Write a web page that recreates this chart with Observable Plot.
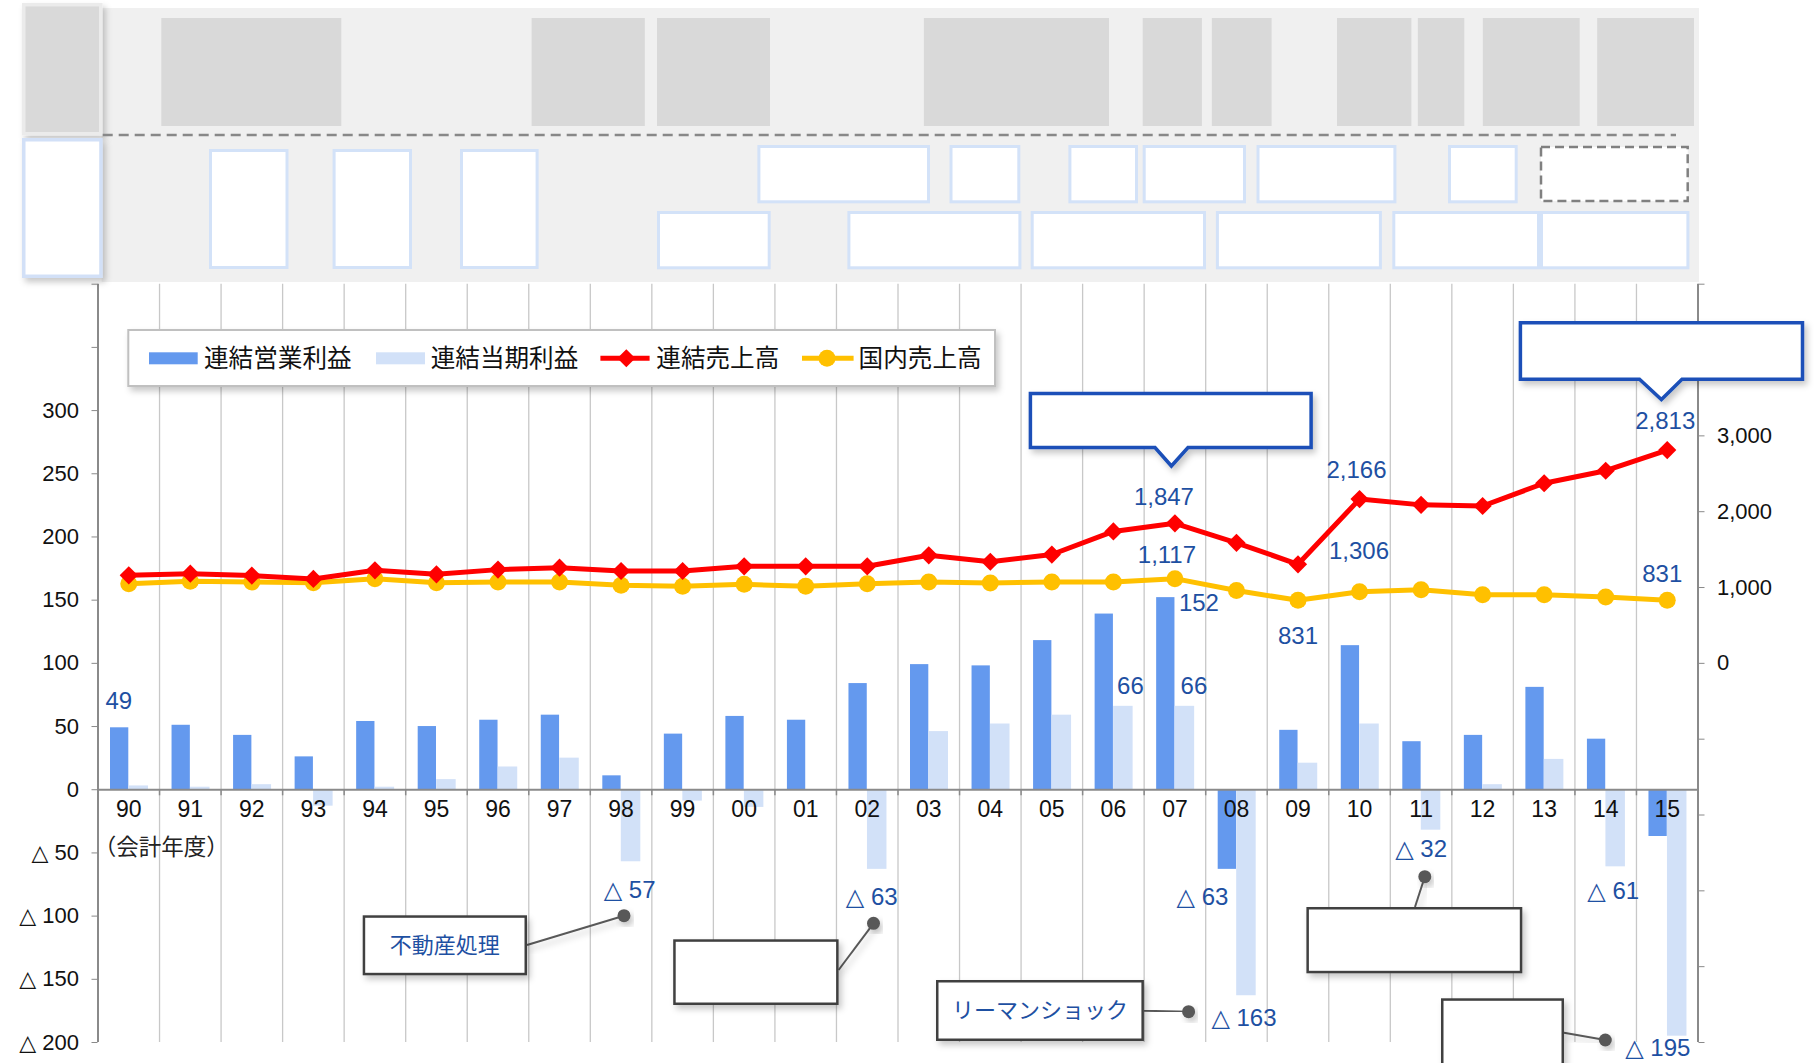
<!DOCTYPE html>
<html><head><meta charset="utf-8">
<script src="https://cdn.jsdelivr.net/npm/d3@7"></script>
<script src="https://cdn.jsdelivr.net/npm/@observablehq/plot@0.6"></script>
<style>
html,body{margin:0;padding:0;background:#fff;}
#wrap{position:relative;width:1820px;height:1063px;overflow:hidden;}
#wrap > svg{position:absolute;left:0;top:0;}
</style></head><body><div id="wrap"></div>
<script>
// ---- data ----
const years = ["90","91","92","93","94","95","96","97","98","99","00","01","02","03","04","05","06","07","08","09","10","11","12","13","14","15"];
const operatingProfit = [49,51,43,26,54,50,55,59,11,44,58,55,84,99,98,118,139,152,-63,47,114,38,43,81,40,-37];
const netProfit = [3,2,4,-13,2,8,18,25,-57,-9,-14,0,-63,46,52,59,66,66,-163,21,52,-32,4,24,-61,-195];
const consolidatedSales = [1161,1183,1157,1113,1227,1174,1236,1262,1218,1218,1280,1280,1280,1425,1340,1435,1740,1847,1590,1306,2166,2090,2075,2375,2540,2813];
const domesticSales = [1051,1082,1073,1064,1117,1064,1073,1073,1029,1016,1042,1016,1051,1073,1060,1073,1073,1117,960,831,945,970,905,905,875,831];
const seriesNames = ["連結営業利益","連結当期利益","連結売上高","国内売上高"];
const leftTicks = d3.range(-200, 401, 50);
const rightTicks = d3.range(-5000, 5001, 1000);
const axisNote = "（会計年度）";
const noteTexts = ["不動産処理","リーマンショック"];

// ---- layout / style ----
const W = 1820, H = 1063;
const mL = 97.5, mR = 122.5, mT = 283.7, mB = 21;
const bw = (W - mL - mR) / years.length;
const C = {op:"#6499ee", net:"#d2e1f8", cs:"#ff0000", ds:"#ffc000", lab:"#1e50a2", axis:"#8a8a8a", grid:"#c8c8c8"};
const NUM = "Liberation Sans, Arial, DejaVu Sans, sans-serif";
const CJK = "Noto Sans CJK JP, Noto Sans, sans-serif";
const toLeft = v => v * 0.06 + 100;   // right axis (-5000..5000) -> left axis (-200..400)
const fromLeft = v => Math.round((v - 100) / 0.06);
const fmtN = d3.format(",");
const fmtSigned = v => v < 0 ? "△ " + fmtN(-v) : fmtN(v);

const rows = years.map((y, i) => ({
  year: y, op: operatingProfit[i], net: netProfit[i],
  cs: toLeft(consolidatedSales[i]), ds: toLeft(domesticSales[i]),
  csRaw: consolidatedSales[i], dsRaw: domesticSales[i]
}));
const byYear = Object.fromEntries(rows.map(r => [r.year, r]));

// data labels: series key, year, pixel offset
const labelSpecs = [
  {k:"op", y:"90", dx:-10, dy:-26},
  {k:"op", y:"07", dx:24, dy:6},
  {k:"net", y:"06", dx:17, dy:-20},
  {k:"net", y:"07", dx:19, dy:-20},
  {k:"net", y:"98", dx:8.5, dy:29},
  {k:"net", y:"02", dx:4.5, dy:28},
  {k:"op", y:"08", dx:-34, dy:28},
  {k:"net", y:"08", dx:7.5, dy:23},
  {k:"net", y:"11", dx:0, dy:19},
  {k:"net", y:"14", dx:7.5, dy:24},
  {k:"net", y:"15", dx:-9.5, dy:12},
  {k:"cs", y:"07", dx:-11, dy:-26},
  {k:"ds", y:"07", dx:-8, dy:-23},
  {k:"cs", y:"10", dx:-3, dy:-29},
  {k:"cs", y:"09", dx:61, dy:-13.5},
  {k:"ds", y:"09", dx:0, dy:36},
  {k:"cs", y:"15", dx:-2, dy:-29},
  {k:"ds", y:"15", dx:-5, dy:-26}
];
const rawKey = {op:"op", net:"net", cs:"csRaw", ds:"dsRaw"};

const labelMarks = labelSpecs.map(s => Plot.text([byYear[s.y]], {
  x: "year", y: s.k, text: d => fmtSigned(d[rawKey[s.k]]),
  dx: s.dx, dy: s.dy, fill: C.lab, fontSize: 24, fontFamily: NUM
}));

const chart = Plot.plot({
  width: W, height: H,
  marginLeft: mL, marginRight: mR, marginTop: mT, marginBottom: mB,
  style: {background: "transparent", fontFamily: NUM},
  x: {type: "band", domain: years, padding: 0, round: false, axis: null},
  y: {domain: [-200, 400], axis: null},
  marks: [
    Plot.ruleX(years.slice(1), {x: d => d, dx: -bw / 2, stroke: C.grid, strokeWidth: 1.3}),
    Plot.barY(rows, {x: "year", y: "op", fill: C.op, insetLeft: 12.5, insetRight: bw - 30.8}),
    Plot.barY(rows, {x: "year", y: "net", fill: C.net, insetLeft: 31, insetRight: bw - 50.5}),
    Plot.ruleY([0], {stroke: C.axis, strokeWidth: 2}),
    Plot.ruleX(years.slice(1), {x: d => d, dx: -bw / 2, y1: () => 0, y2: () => -4.8, stroke: C.axis, strokeWidth: 1.5}),
    Plot.ruleX([years[0]], {x: d => d, dx: -bw / 2, stroke: C.axis, strokeWidth: 2}),
    Plot.ruleX([years[years.length - 1]], {x: d => d, dx: bw / 2, stroke: C.axis, strokeWidth: 2}),
    Plot.axisY({anchor: "left", ticks: leftTicks, tickSize: 6, tickPadding: 13, stroke: C.axis, fill: "#111",
      fontSize: 22, fontFamily: NUM, tickFormat: d => d > 300 ? "" : fmtSigned(d)}),
    Plot.axisY({anchor: "right", ticks: rightTicks.map(toLeft), tickSize: 6, tickPadding: 13, stroke: C.axis, fill: "#111",
      fontSize: 22, fontFamily: NUM, tickFormat: d => { const r = fromLeft(d); return r >= 0 && r <= 3000 ? fmtN(r) : ""; }}),
    Plot.line(rows, {x: "year", y: "ds", stroke: C.ds, strokeWidth: 5}),
    Plot.dot(rows, {x: "year", y: "ds", fill: C.ds, r: 8.5, stroke: null}),
    Plot.line(rows, {x: "year", y: "cs", stroke: C.cs, strokeWidth: 5}),
    Plot.dot(rows, {x: "year", y: "cs", fill: C.cs, symbol: "diamond2", r: 8.2, stroke: null}),
    Plot.text(years, {x: d => d, y: () => 0, dy: 19.5, text: d => d, fontSize: 23, fill: "#111", fontFamily: NUM}),
    Plot.text([axisNote], {x: () => years[0], y: () => 0, dx: 32.5, dy: 58, text: d => d, fontSize: 22.5, fill: "#222", fontFamily: CJK}),
    ...labelMarks
  ]
});
document.getElementById("wrap").appendChild(chart);

// ---- decorative overlay (panels, legend, callouts, notes) ----
const ov = d3.select("#wrap").append("svg").attr("width", W).attr("height", H);
const defs = ov.append("defs");
const f = defs.append("filter").attr("id", "sh").attr("x", "-10%").attr("y", "-10%").attr("width", "130%").attr("height", "140%");
f.append("feDropShadow").attr("dx", 3).attr("dy", 4).attr("stdDeviation", 3).attr("flood-color", "#000").attr("flood-opacity", 0.22);

// top panel
ov.append("rect").attr("x", 101.6).attr("y", 8).attr("width", 1699 - 101.6).attr("height", 274).attr("fill", "#f0f0f0");
// left column
ov.append("rect").attr("x", 23.75).attr("y", 4.7).attr("width", 77).attr("height", 129).attr("fill", "#d9d9d9")
  .attr("stroke", "#ebebeb").attr("stroke-width", 3.5).attr("filter", "url(#sh)");
ov.append("rect").attr("x", 23.75).attr("y", 139.75).attr("width", 77.2).attr("height", 136.5).attr("fill", "#fff")
  .attr("stroke", "#d2e0f7").attr("stroke-width", 3.5).attr("filter", "url(#sh)");
// gray blocks
[[161.3,341.3],[531.6,644.8],[657,770],[923.9,1109],[1142.7,1201.9],[1211.8,1271.6],[1337,1411.4],[1417.8,1464.3],[1482.8,1579.7],[1597.2,1694]]
  .forEach(([a, b]) => ov.append("rect").attr("x", a).attr("y", 18).attr("width", b - a).attr("height", 108).attr("fill", "#d9d9d9"));
// dashed separator
ov.append("line").attr("x1", 102.7).attr("x2", 1676).attr("y1", 135).attr("y2", 135)
  .attr("stroke", "#888").attr("stroke-width", 2.5).attr("stroke-dasharray", "10 6");
// white boxes
const wbox = (a, b, t, btm) => ov.append("rect").attr("x", a + 1.5).attr("y", t + 1.5).attr("width", b - a - 3).attr("height", btm - t - 3)
  .attr("fill", "#fff").attr("stroke", "#d3e2f8").attr("stroke-width", 3);
[[209,288.5],[332.6,412],[460,538.6]].forEach(([a, b]) => wbox(a, b, 149, 269));
[[757.4,930],[949.5,1020.3],[1068.4,1138],[1142.7,1246],[1256.5,1396.4],[1448,1517.7]].forEach(([a, b]) => wbox(a, b, 145, 203.3));
[[657,770.7],[847.4,1021.4],[1030.7,1206],[1215.9,1381.9],[1392.3,1540],[1540,1689.4]].forEach(([a, b]) => wbox(a, b, 211, 269.3));
ov.append("rect").attr("x", 1541).attr("y", 147).attr("width", 146.7).attr("height", 54).attr("fill", "#fff")
  .attr("stroke", "#808080").attr("stroke-width", 2.5).attr("stroke-dasharray", "9 5");

// legend
const lg = ov.append("g");
lg.append("rect").attr("x", 128.3).attr("y", 330).attr("width", 866.7).attr("height", 56).attr("fill", "#fff")
  .attr("stroke", "#c0c0c0").attr("stroke-width", 2).attr("filter", "url(#sh)");
const ly = 358.3;
lg.append("rect").attr("x", 149).attr("y", ly - 6).attr("width", 48.7).attr("height", 12).attr("fill", C.op);
lg.append("rect").attr("x", 376).attr("y", ly - 6).attr("width", 49).attr("height", 12).attr("fill", C.net);
lg.append("line").attr("x1", 600.4).attr("x2", 649.6).attr("y1", ly).attr("y2", ly).attr("stroke", C.cs).attr("stroke-width", 5);
lg.append("path").attr("d", `M626.3,${ly-9}L635.3,${ly}L626.3,${ly+9}L617.3,${ly}Z`).attr("fill", C.cs);
lg.append("line").attr("x1", 802).attr("x2", 853.6).attr("y1", ly).attr("y2", ly).attr("stroke", C.ds).attr("stroke-width", 5);
lg.append("circle").attr("cx", 827).attr("cy", ly).attr("r", 8.5).attr("fill", C.ds);
[[204, 0],[430.7, 1],[656.3, 2],[858.6, 3]].forEach(([x, i]) =>
  lg.append("text").attr("x", x).attr("y", ly).attr("dy", "0.36em").attr("font-family", CJK).attr("font-size", 24.6)
    .attr("fill", "#111").text(seriesNames[i]));

// blue callouts
const callout = (l, t, r, b, p1, p2, tx, ty) =>
  ov.append("path").attr("d", `M${l},${t}H${r}V${b}H${p2}L${tx},${ty}L${p1},${b}H${l}Z`)
    .attr("fill", "#fff").attr("stroke", "#1a50b8").attr("stroke-width", 3.5).attr("stroke-linejoin", "miter").attr("filter", "url(#sh)");
callout(1030.4, 393.5, 1311.1, 447.5, 1155, 1188, 1171.4, 466);
callout(1520.4, 322.8, 1802.5, 379.2, 1639.5, 1682, 1661.4, 399.5);

// note boxes with leaders
const note = (l, t, r, b, lx, ly2, dx, dy, txt) => {
  const g = ov.append("g");
  g.append("line").attr("x1", lx).attr("y1", ly2).attr("x2", dx).attr("y2", dy).attr("stroke", "#595959").attr("stroke-width", 2).attr("filter", "url(#sh)");
  g.append("circle").attr("cx", dx).attr("cy", dy).attr("r", 6.5).attr("fill", "#595959").attr("filter", "url(#sh)");
  g.append("rect").attr("x", l + 1.25).attr("y", t + 1.25).attr("width", r - l - 2.5).attr("height", b - t - 2.5)
    .attr("fill", "#fff").attr("stroke", "#404040").attr("stroke-width", 2.5).attr("filter", "url(#sh)");
  if (txt) g.append("text").attr("x", (l + r) / 2).attr("y", (t + b) / 2).attr("dy", "0.36em").attr("text-anchor", "middle")
    .attr("font-family", CJK).attr("font-size", 22).attr("fill", C.lab).text(txt);
};
note(362.7, 915.3, 527, 975.3, 527, 945, 624, 915.7, noteTexts[0]);
note(673.2, 939.3, 838.6, 1005, 838.6, 970, 873.5, 923.3, null);
note(936, 980, 1143.9, 1041, 1143.9, 1010.7, 1188.6, 1011.7, noteTexts[1]);
note(1306.4, 907, 1522.3, 973.3, 1415, 907, 1424.8, 876.7, null);
note(1441, 998.3, 1564, 1070, 1564, 1032.7, 1605.3, 1040, null);
</script></body></html>
